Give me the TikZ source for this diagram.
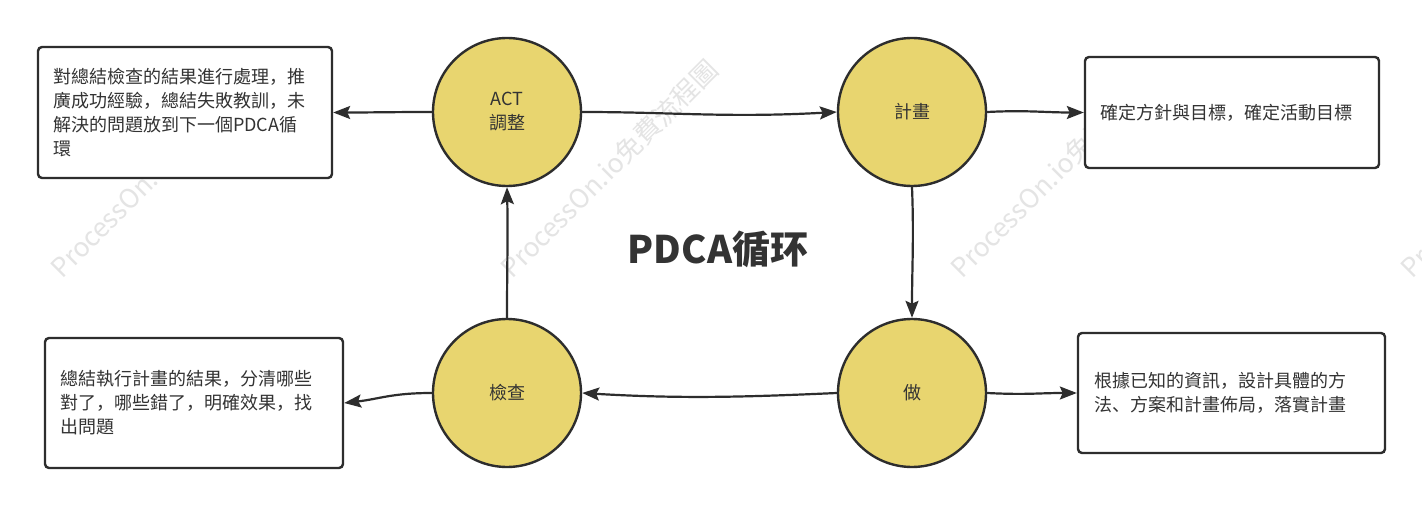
\documentclass[tikz,border=0pt]{standalone}
\usepackage{fontspec}
\setmainfont{Noto Sans CJK SC}
\usetikzlibrary{arrows.meta}
\definecolor{cfill}{HTML}{E8D56F}
\definecolor{cline}{HTML}{2D2D2D}
\definecolor{ctext}{HTML}{333333}
\definecolor{wm}{HTML}{E4E4E4}
\begin{document}
\begin{tikzpicture}[x=1pt,y=-1pt,
  phase/.style={circle, draw=cline, line width=2.4pt, fill=cfill, minimum size=148pt,
    inner sep=0pt, font=\fontsize{18}{24}\selectfont, text=ctext, align=center},
  note/.style={draw=cline, line width=2.4pt, rounded corners=4pt, fill=white,
    inner xsep=15pt, inner ysep=0pt, align=left, text=ctext,
    font=\fontsize{18}{24}\selectfont},
  conn/.style={draw=cline, line width=2.2pt, -{Stealth[length=17pt,width=13pt,inset=3pt]}},
  watermark/.style={rotate=45, anchor=base west, text=wm, inner sep=0pt,
    font=\fontsize{26.5}{30}\selectfont}]
\clip (0,0) rectangle (1422,505);
\fill[white] (0,0) rectangle (1422,505);
% watermarks
\node[watermark] (wm1) at (62,280) {ProcessOn.io免費流程圖};
\node[watermark] (wm2) at (512,280) {ProcessOn.io免費流程圖};
\node[watermark] (wm3) at (962,280) {ProcessOn.io免費流程圖};
\node[watermark] (wm4) at (1412,280) {ProcessOn.io免費流程圖};
% notes
\node[note, minimum width=294pt, minimum height=131pt, text width=264pt] (n1) at (185,112.5)
  {對總結檢查的結果進行處理，推\\廣成功經驗，總結失敗教訓，未\\解決的問題放到下一個PDCA循\\環};
\node[note, minimum width=294pt, minimum height=111pt, text width=264pt] (n2) at (1232,112.5)
  {確定方針與目標，確定活動目標};
\node[note, minimum width=298pt, minimum height=130pt, text width=268pt] (n3) at (194,403)
  {總結執行計畫的結果，分清哪些\\對了，哪些錯了，明確效果，找\\出問題};
\node[note, minimum width=307pt, minimum height=120pt, text width=275pt, inner xsep=16pt] (n4) at (1231.5,393)
  {根據已知的資訊，設計具體的方\\法、方案和計畫佈局，落實計畫};
% phases
\node[phase] (act) at (507,112) {ACT\\調整};
\node[phase] (plan) at (912,112) {計畫};
\node[phase] (do) at (912,393) {做};
\node[phase] (chk) at (507,393) {檢查};
% title
\node[anchor=base, inner sep=0pt, text=ctext, font=\fontsize{38}{40}\selectfont\bfseries] (title) at (718,263) {PDCA循环};
% connectors
\draw[conn] (act.west) .. controls +(-40,0) and +(40,0) .. (n1.east);
\draw[conn] (act.east) .. controls +(90,0) and +(-110,6) .. (plan.west);
\draw[conn] (plan.east) .. controls +(40,-2) and +(-40,0) .. (n2.west);
\draw[conn] (plan.south) .. controls +(2,50) and +(0,-50) .. (do.north);
\draw[conn] (do.east) .. controls +(40,2) and +(-40,0) .. (n4.west);
\draw[conn] (do.west) .. controls +(-90,4) and +(100,6) .. (chk.east);
\draw[conn] (chk.west) .. controls +(-40,0) and +(35,-4) .. (n3.east);
\draw[conn] (chk.north) .. controls +(0,-50) and +(1,50) .. (act.south);
\end{tikzpicture}
\end{document}
